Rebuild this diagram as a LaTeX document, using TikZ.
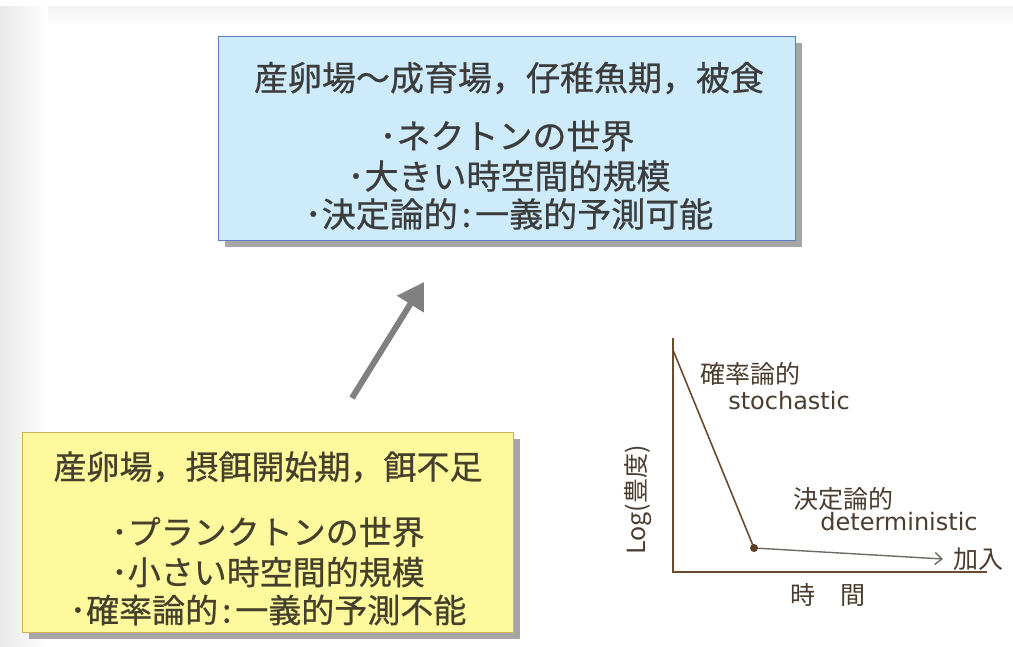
\documentclass[tikz,border=0pt]{standalone}
\usepackage{fontspec}
\setmainfont{Noto Sans CJK JP}
\newfontfamily\boxfont[FakeBold=0.6]{Noto Sans CJK JP}
\newfontfamily\lat{DejaVu Sans}
\usetikzlibrary{arrows.meta,shadows}
\definecolor{bluefill}{HTML}{CDEBFA}
\definecolor{blueline}{HTML}{5A7FBF}
\definecolor{yelfill}{HTML}{FDF99C}
\definecolor{yelline}{HTML}{D0B25A}
\definecolor{boxtext}{HTML}{3C3C3C}
\definecolor{yeltext}{HTML}{44402C}
\definecolor{brownline}{HTML}{6B4B2E}
\definecolor{graytail}{HTML}{6E6A66}
\definecolor{graphtext}{HTML}{4A3C2E}
\newcommand{\colonsp}{\kern4pt:\kern4pt}
\tikzset{
  panel/.style={draw, line width=0.8pt, inner sep=0pt,
    drop shadow={shadow xshift=7pt, shadow yshift=-7pt, fill=black!35, opacity=1}},
  boxline/.style={text=boxtext, font=\boxfont\fontsize{34}{34}\selectfont, inner sep=0pt},
  yelline/.style={text=yeltext, font=\boxfont\fontsize{33}{33}\selectfont, inner sep=0pt},
  gtext/.style={text=graphtext, font=\fontsize{25}{25}\selectfont, inner sep=0pt},
  ltext/.style={text=graphtext, font=\lat\fontsize{24}{24}\selectfont, inner sep=0pt},
}
\begin{document}
\begin{tikzpicture}[x=1pt,y=-1pt]
\useasboundingbox (0,0) rectangle (1013,646);
\fill[white] (0,0) rectangle (1013,646);
\shade[left color=black!9, right color=white] (0,6) rectangle (48,646);
\shade[top color=black!5, bottom color=white] (48,6) rectangle (1013,26);
% top box
\node[panel, fill=bluefill, draw=blueline, minimum width=577pt, minimum height=204pt] (blue) at (506.5,138) {};
\node[boxline] (b1) at (509,78) {産卵場～成育場，仔稚魚期，被食};
\node[boxline] (b2) at (507,136) {･ネクトンの世界};
\node[boxline] (b3) at (509,176) {･大きい時空間的規模};
\node[boxline] (b4) at (509,214) {･決定論的\colonsp 一義的予測可能};
% bottom box
\node[panel, fill=yelfill, draw=yelline, minimum width=491pt, minimum height=200pt] (yel) at (267.5,532) {};
\node[yelline] (y1) at (268,467) {産卵場，摂餌開始期，餌不足};
\node[yelline] (y2) at (268,532) {･プランクトンの世界};
\node[yelline] (y3) at (268,572) {･小さい時空間的規模};
\node[yelline] (y4) at (268,610) {･確率論的\colonsp 一義的予測不能};
% arrow
\coordinate (as) at (352,398);
\coordinate (ae) at (424,282);
\draw[line width=6pt, draw=black!50, -{Triangle[length=26pt,width=30pt]}] (as) -- (ae);
% graph
\coordinate (ytop) at (673,338);
\coordinate (orig) at (673,572);
\coordinate (xend) at (987,572);
\coordinate (p0) at (673,350);
\coordinate (p1) at (754,548);
\coordinate (p2) at (943,559);
\draw[brownline, line width=1.2pt] (ytop) -- (orig) -- (xend);
\draw[brownline, line width=1.6pt] (p0) -- (p1);
\draw[graytail, line width=1.4pt, -{Straight Barb[length=7pt,width=12pt]}] (p1) -- (p2);
\fill[brownline!85!black] (p1) circle (4pt);
\node[gtext] (sto) at (750,374) {確率論的};
\node[ltext] (stoen) at (789,401) {stochastic};
\node[gtext] (det) at (843,499) {決定論的};
\node[ltext] (deten) at (899,522) {deterministic};
\node[gtext, anchor=west] (kanyu) at (953,559) {加入};
\node[gtext] (jikan) at (828,595) {時　間};
\node[gtext, rotate=90] (logab) at (638,500) {Log(豊度)};
\end{tikzpicture}
\end{document}
